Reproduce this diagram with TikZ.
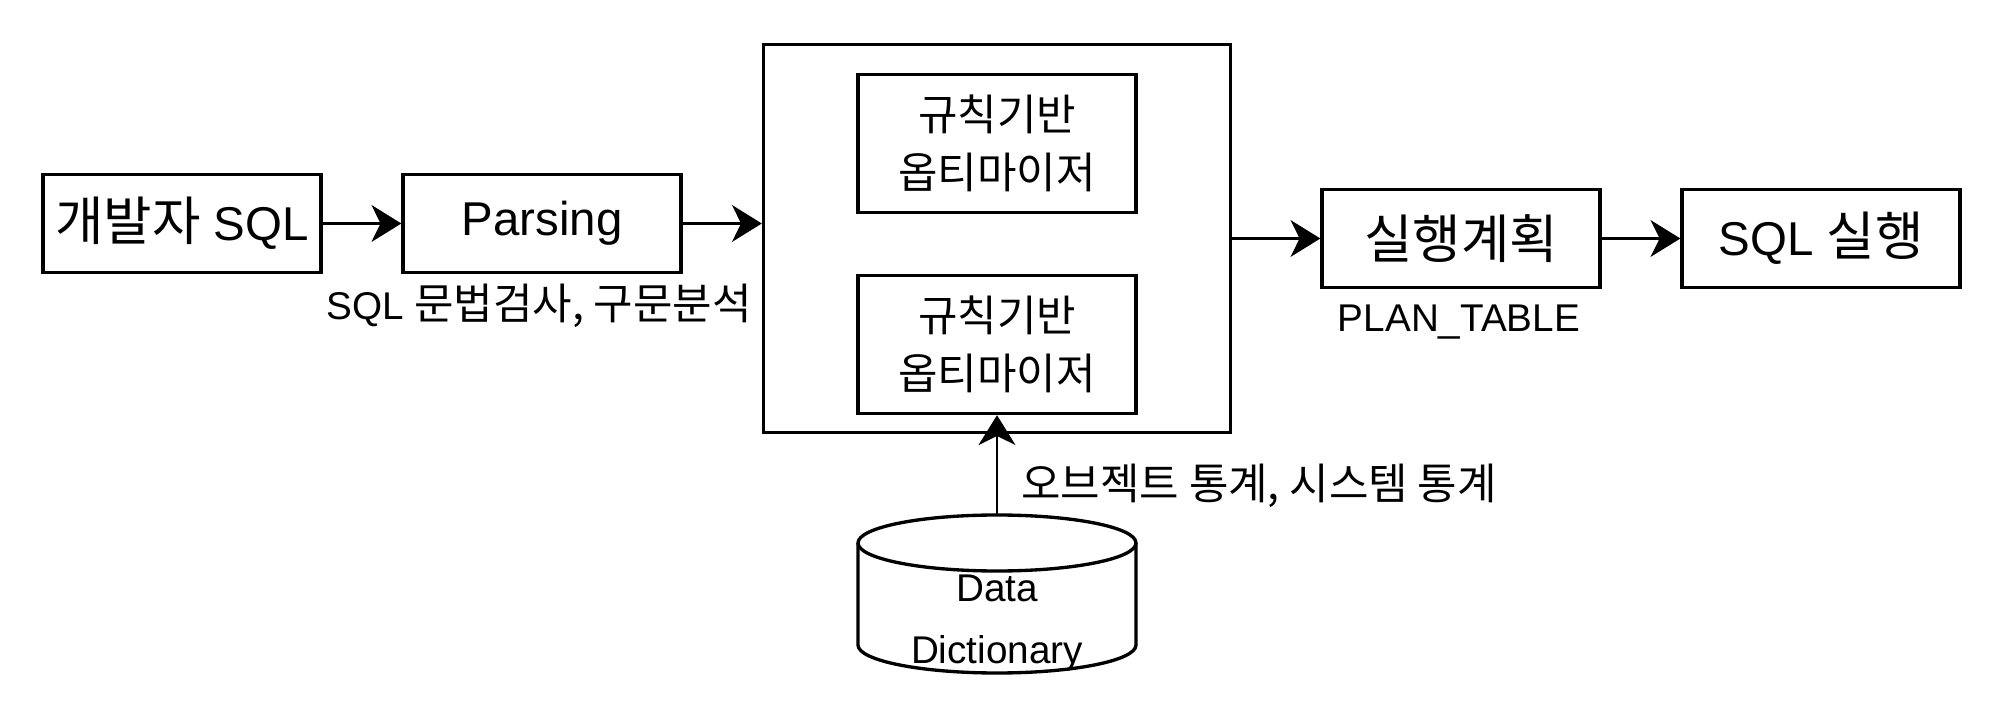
\documentclass[tikz,border=0pt]{standalone}
\usepackage{fontspec}
\setmainfont{Liberation Sans}
\newfontfamily\kr[Scale=1.11]{Noto Sans CJK KR}
\usetikzlibrary{arrows.meta}

\begin{document}
\begin{tikzpicture}[
    box/.style={draw,line width=0.95pt,minimum width=2.78cm,minimum height=0.98cm,
                inner sep=0pt,font=\fontsize{13.5}{16}\selectfont},
    rulebox/.style={draw,line width=0.95pt,minimum width=2.78cm,minimum height=1.38cm,
                inner sep=0pt,align=center,font=\fontsize{11}{16.4}\selectfont\kr},
    lbl/.style={inner sep=0pt,font=\fontsize{11}{13}\selectfont},
    arr/.style={-{Stealth[length=8.5pt,width=10.5pt,inset=2.6pt]},line width=0.6pt}]
  \useasboundingbox (0,0) rectangle (20.04,7.16);
  \node[box]      (dev)    at (1.82,4.925)  {{\kr 개발자} SQL};
  \node[box]      (parse)  at (5.42,4.925)  {Parsing};
  \node[draw,line width=0.95pt,minimum width=4.67cm,minimum height=3.88cm]
                  (opt)    at (9.97,4.775)  {};
  \node[rulebox]  (rule1)  at (9.97,5.725)  {규칙기반\\옵티마이저};
  \node[rulebox]  (rule2)  at (9.97,3.715)  {규칙기반\\옵티마이저};
  \node[box]      (plan)   at (14.61,4.775) {\kr 실행계획};
  \node[box]      (run)    at (18.21,4.775) {SQL {\kr 실행}};
  \draw[line width=0.95pt] (8.58,1.73) -- (8.58,0.71)
        arc[start angle=180,end angle=360,x radius=1.39,y radius=0.28] -- (11.36,1.73);
  \draw[line width=0.95pt] (9.97,1.73) ellipse[x radius=1.39,y radius=0.28];
  \coordinate     (dtop)   at (9.97,2.01);
  \node[lbl,align=center,font=\fontsize{11}{17.8}\selectfont]
                  (dict)   at (9.97,0.93)   {Data\\Dictionary};
  \node[lbl]      (chk)    at (5.39,4.10)   {SQL {\kr 문법검사, 구문분석}};
  \node[lbl]      (ptab)   at (14.59,3.94)  {PLAN\_TABLE};
  \node[lbl]      (stat)   at (12.59,2.30)  {\kr 오브젝트 통계, 시스템 통계};
  \draw[arr] (dev)        -- (parse);
  \draw[arr] (parse.east) -- (parse.east -| opt.west);
  \draw[arr] (opt)        -- (plan);
  \draw[arr] (plan)       -- (run);
  \draw[arr] (dtop)       -- (rule2);
\end{tikzpicture}
\end{document}
